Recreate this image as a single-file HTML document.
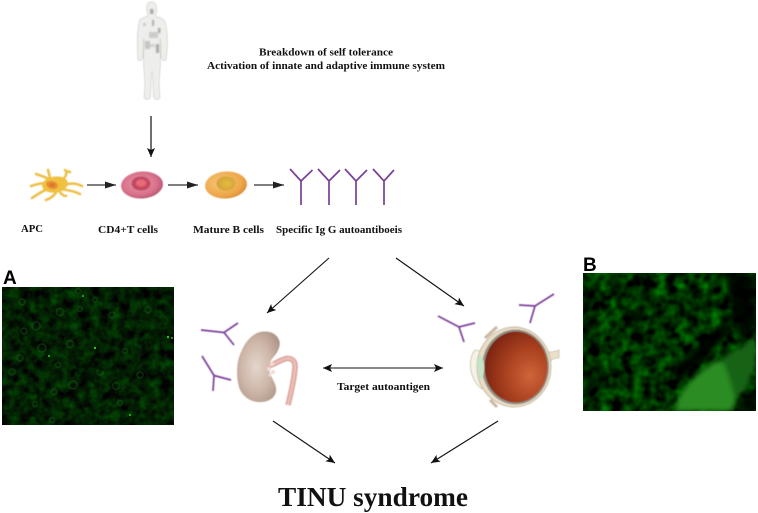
<!DOCTYPE html>
<html><head><meta charset="utf-8"><style>
html,body{margin:0;padding:0;background:#fff;width:758px;height:513px;overflow:hidden}
svg{display:block}
text{font-family:"Liberation Serif",serif;font-weight:bold;fill:#111;font-size:10px}
.a{stroke:#111;stroke-width:1.1;fill:none}
.ab{stroke:#7b3f98;stroke-width:1.7;fill:none}
.r{fill:none;stroke:#1a5e1a;stroke-width:.9}
</style></head><body>
<svg width="758" height="513" viewBox="0 0 758 513" xmlns="http://www.w3.org/2000/svg">
<defs>
<filter id="noiseA" x="0" y="0" width="100%" height="100%" color-interpolation-filters="sRGB"><feTurbulence type="fractalNoise" baseFrequency="0.1" numOctaves="3" seed="4"/><feColorMatrix values="0 0 0 0 0.01  0.42 0.2 0 0 -0.19  0 0 0 0 0.01  0 0 0 0 1"/></filter>
<filter id="noiseB" x="0" y="0" width="100%" height="100%" color-interpolation-filters="sRGB"><feTurbulence type="fractalNoise" baseFrequency="0.09" numOctaves="2" seed="9"/><feColorMatrix values="0 0 0 0 0  0.72 0.36 0 0 -0.36  0 0 0 0 0  0 0 0 0 1"/></filter>
<filter id="bl4"><feGaussianBlur stdDeviation="4"/></filter>
<filter id="bl2"><feGaussianBlur stdDeviation="2.500"/></filter>
<filter id="bl1"><feGaussianBlur stdDeviation="0.5"/></filter>
<radialGradient id="tc" cx=".45" cy=".45" r=".6"><stop offset="0" stop-color="#e89aa8"/><stop offset=".7" stop-color="#d8708a"/><stop offset="1" stop-color="#b04f6a"/></radialGradient>
<radialGradient id="tn" cx=".55" cy=".5" r=".55"><stop offset="0" stop-color="#e0485c"/><stop offset="1" stop-color="#b84a64"/></radialGradient>
<radialGradient id="bc" cx=".4" cy=".4" r=".7"><stop offset="0" stop-color="#f6c97a"/><stop offset=".7" stop-color="#eea648"/><stop offset="1" stop-color="#cf8434"/></radialGradient>
<radialGradient id="bn" cx=".55" cy=".5" r=".55"><stop offset="0" stop-color="#e6bd3e"/><stop offset="1" stop-color="#d2a03c"/></radialGradient>
<radialGradient id="kd" cx=".45" cy=".5" r=".65"><stop offset="0" stop-color="#e4d6cc"/><stop offset=".55" stop-color="#cdb6a8"/><stop offset="1" stop-color="#ab9284"/></radialGradient>
<radialGradient id="ey" cx=".72" cy=".62" r=".8"><stop offset="0" stop-color="#d0643a"/><stop offset=".5" stop-color="#a8401f"/><stop offset="1" stop-color="#741f0e"/></radialGradient>
<marker id="m" markerUnits="userSpaceOnUse" markerWidth="10" markerHeight="9" refX="9" refY="4" orient="auto-start-reverse"><path d="M0 0L9 4L0 8L2 4Z" fill="#111"/></marker>
<marker id="m2" markerUnits="userSpaceOnUse" markerWidth="12" markerHeight="8" refX="11" refY="3.500" orient="auto"><path d="M0 0L11 3.500L0 7Z" fill="#222"/></marker>
</defs>
<rect width="758" height="513" fill="#fff"/>

<!-- human figure -->
<g filter="url(#bl1)">
<path d="M151.500 2C147 2 146 6 147 12C147.500 14 148 15 148 16C144 18 140 18 139 22C137 32 137 45 138 60C140 61 142 60 143 58L143 42L144 38C144 50 143 60 144 70C145 80 145 90 144 98C146 100 150 100 150.500 97L151.500 72L152.500 72L153.500 97C154 100 158 100 160 98C159 90 159 80 160 70C161 60 160 50 160 38L161 44L161 58C162 60 164 61 166 60C168 45 168 32 165 22C164 18 159 18 155.500 16C155.500 15 156 14 156.500 12C157 6 156 2 151.500 2Z" fill="#eeeeec" stroke="#d0d0cc" stroke-width=".7"/>
<g fill="#8d8d88" filter="url(#bl1)" opacity=".7">
<rect x="150" y="9" width="3.500" height="5"/><rect x="152" y="20" width="2" height="6"/><rect x="158" y="28" width="2.500" height="5"/>
<rect x="143" y="23" width="3" height="3" opacity=".5"/><rect x="149" y="32" width="9" height="6" opacity=".5"/><rect x="145" y="41" width="5" height="8" opacity=".6"/><rect x="156" y="44" width="3" height="9"/><rect x="150" y="44" width="5" height="3" opacity=".4"/>
</g></g>
<line class="a" x1="151" y1="116" x2="151" y2="157" marker-end="url(#m)" style="stroke-width:1.200"/>

<text x="259" y="55.500" textLength="134" lengthAdjust="spacingAndGlyphs">Breakdown of self tolerance</text>
<text x="207" y="69" textLength="238" lengthAdjust="spacingAndGlyphs">Activation of innate and adaptive immune system</text>

<!-- APC -->
<g filter="url(#bl1)">
<g fill="none" stroke="#ecc048" stroke-width="2.600" stroke-linecap="round">
<path d="M55 185C46 182 40 183 31 186"/><path d="M50 180C46 177 42 176 36 174"/><path d="M50 180C50 176 49 174 48 170"/>
<path d="M62 180C66 177 68 172 65 170"/><path d="M66 171L70 172"/><path d="M62 185C72 183 76 183 82 186"/><path d="M60 189C68 190 74 191 80 194"/><path d="M58 190C54 195 52 198 46 200"/><path d="M50 188C44 190 38 194 32 198"/><path d="M60 192C62 195 64 196 66 196"/>
</g>
<ellipse cx="55" cy="184.500" rx="13" ry="8" fill="#f0c040" transform="rotate(-8 55 184.500)"/>
<ellipse cx="52" cy="185" rx="6" ry="4" fill="#e88f34" transform="rotate(15 52 185)"/>
<ellipse cx="52" cy="185" rx="3" ry="2" fill="#dc7a2c"/>
</g>
<line x1="87" y1="185" x2="116" y2="185" stroke="#333" stroke-width="1.300" marker-end="url(#m2)"/>
<g filter="url(#bl1)"><ellipse cx="142" cy="185" rx="21" ry="13.500" fill="url(#tc)" transform="rotate(-4 142 185)"/>
<ellipse cx="141" cy="183.500" rx="9.500" ry="7" fill="url(#tn)"/><ellipse cx="141" cy="183" rx="5" ry="3.500" fill="#e66a78"/></g>
<line x1="168" y1="185" x2="198" y2="185" stroke="#333" stroke-width="1.300" marker-end="url(#m2)"/>
<g filter="url(#bl1)"><ellipse cx="226" cy="185" rx="21" ry="13.500" fill="url(#bc)" transform="rotate(-4 226 185)"/>
<ellipse cx="226" cy="183.500" rx="9.500" ry="7" fill="url(#bn)"/></g>
<line x1="254" y1="185" x2="284" y2="185" stroke="#333" stroke-width="1.300" marker-end="url(#m2)"/>
<!-- antibodies -->
<g><path class="ab" d="M290 169L301 181L312.500 170M301 181V205"/><path class="ab" d="M318 169L329 181L340 170M329 181V205"/><path class="ab" d="M345 169L356 181L367 170M356 181V205"/><path class="ab" d="M373 169L384 181L394 170M384 181V205"/></g>

<text x="21" y="232" textLength="22" lengthAdjust="spacingAndGlyphs">APC</text>
<text x="98" y="233" textLength="60" lengthAdjust="spacingAndGlyphs">CD4+T cells</text>
<text x="193" y="233" textLength="71" lengthAdjust="spacingAndGlyphs">Mature B cells</text>
<text x="276" y="233" textLength="126" lengthAdjust="spacingAndGlyphs">Specific Ig G autoantiboeis</text>

<!-- flow arrows -->
<line class="a" x1="329" y1="258" x2="267" y2="313" marker-end="url(#m)"/>
<line class="a" x1="396" y1="258" x2="464" y2="306" marker-end="url(#m)"/>
<line class="a" x1="323" y1="368" x2="443" y2="368" marker-start="url(#m)" marker-end="url(#m)"/>
<line class="a" x1="273" y1="421" x2="335" y2="463" marker-end="url(#m)"/>
<line class="a" x1="498" y1="421" x2="431" y2="463" marker-end="url(#m)"/>
<text x="337" y="390" textLength="93" lengthAdjust="spacingAndGlyphs">Target autoantigen</text>
<text x="278" y="506" textLength="190" lengthAdjust="spacingAndGlyphs" style="font-size:27px">TINU syndrome</text>

<!-- kidney -->
<g filter="url(#bl1)">
<path d="M268 366C276 364 281 359 287 358.500C293 358 295.500 362 295 368C294 380 291 393 288 405" fill="none" stroke="#d8a29a" stroke-width="5.500"/>
<path d="M268 366C276 364 281 359 287 358.500C293 358 295.500 362 295 368C294 380 291 393 288 405" fill="none" stroke="#edbdb5" stroke-width="2.800"/>
<path d="M265 331.500C255 331 246 340 242 350C236 361 236 376 239 387C242 397 252 403 262 402C272 401 277 395 276 388C275 381 270 376 269 369C268.500 362 272 359 276 354C280 348 281 342 278 338C275 333 270 331.500 265 331.500Z" fill="url(#kd)"/>
<circle cx="272" cy="364" r="2" fill="#efdcd2"/><circle cx="269" cy="369" r="2" fill="#efdcd2"/><circle cx="273" cy="372" r="2" fill="#efdcd2"/><circle cx="270" cy="375" r="1.500" fill="#efdcd2"/>
</g>
<!-- free antibodies -->
<g filter="url(#bl1)">
<path class="ab" d="M201 330L224 332.500L238 323M224 332.500L234 345"/>
<path class="ab" d="M202 356L214 375.500L213 391M214 375.500L231 380"/>
<path class="ab" d="M438 316L459 327L475 323M459 327L464 342"/>
<path class="ab" d="M554 294L535 306L519 305M535 306L530 323"/>
</g>

<!-- eye -->
<g filter="url(#bl1)">
<path d="M543 350C549 353 554 352 559 350L559 358C553 358 549 361 547 366Z" fill="#ecdfca" stroke="#b9ad98" stroke-width=".6"/>
<path d="M485 338L497 327M490 400L497 407" stroke="#c9b9a0" stroke-width="3" fill="none"/>
<path d="M475 350C468 358 468 378 482 389L490 380L486 352Z" fill="#f5f3e6" stroke="#c4bfa0" stroke-width=".8"/>
<ellipse cx="514" cy="367" rx="37" ry="40" fill="#eadcc6" stroke="#b5a88f" stroke-width=".7"/>
<ellipse cx="515.500" cy="367" rx="33.500" ry="37.500" fill="#8f9084"/>
<ellipse cx="516" cy="367" rx="31.500" ry="35.500" fill="url(#ey)"/>
<path d="M480 354C476 360 476 374 481 380C485 376 486 360 480 354Z" fill="#c8e2c6"/>
</g>

<!-- panel A -->
<text x="3" y="284" style="font-family:'Liberation Sans',sans-serif;font-size:19px;fill:#000">A</text>
<svg x="2" y="287" width="172" height="138" viewBox="2 287 172 138">
<rect x="2" y="287" width="172" height="138" fill="#031203"/>
<rect x="2" y="287" width="172" height="138" filter="url(#noiseA)"/>
<g filter="url(#bl1)" opacity=".85">
<circle class="r" cx="42" cy="348" r="4"/><circle class="r" cx="70" cy="344" r="3.500"/><circle class="r" cx="60" cy="312" r="3.500"/><circle class="r" cx="36" cy="326" r="4"/><circle class="r" cx="24" cy="331" r="3"/><circle class="r" cx="22" cy="302" r="3"/><circle class="r" cx="78" cy="291" r="2.500"/><circle class="r" cx="112" cy="315" r="3"/><circle class="r" cx="80" cy="309" r="2.500"/><circle class="r" cx="54" cy="392" r="3"/><circle class="r" cx="73" cy="385" r="4"/><circle class="r" cx="116" cy="386" r="3.500"/><circle class="r" cx="120" cy="403" r="2.500"/><circle class="r" cx="20" cy="358" r="3"/><circle class="r" cx="12" cy="372" r="3"/><circle class="r" cx="58" cy="365" r="2.500"/><circle class="r" cx="95" cy="300" r="2.500"/><circle class="r" cx="125" cy="351" r="2.500"/><circle class="r" cx="148" cy="310" r="3"/><circle class="r" cx="140" cy="375" r="3"/><circle class="r" cx="100" cy="372" r="3"/><circle class="r" cx="35" cy="404" r="2.500"/><circle class="r" cx="52" cy="420" r="2.500"/>
<path d="M82 366C90 364 96 368 104 370M80 378C86 376 92 380 98 386M92 357C98 356 102 358 106 358" stroke="#020a02" stroke-width="2" fill="none"/>
</g>
<g fill="#2fc02f"><circle cx="95" cy="348" r="1.200"/><circle cx="168" cy="337" r="1.200"/><circle cx="172" cy="338" r="1"/><circle cx="130" cy="415" r="1"/><circle cx="49" cy="356" r="1"/><circle cx="83" cy="296" r="1"/></g>
</svg>

<!-- panel B -->
<text x="583" y="271" style="font-family:'Liberation Sans',sans-serif;font-size:19px;fill:#000">B</text>
<svg x="583" y="273" width="173" height="138" viewBox="583 273 173 138">
<rect x="583" y="273" width="173" height="138" fill="#020c02"/>
<rect x="583" y="273" width="173" height="138" filter="url(#noiseB)"/>
<g filter="url(#bl4)" fill="#010601">
<path d="M725 273L756 273V330L738 340Z" opacity=".9"/>
<path d="M583 290L590 290L590 335L583 345Z" opacity=".7"/>
<path d="M583 375L600 365L605 380L583 400Z" opacity=".6"/>
<path d="M640 273L648 273L640 340L630 335Z" opacity=".5"/>
<path d="M700 345L722 325L735 322L712 352L680 382L670 372Z"/>
<path d="M740 402L756 390V411H732Z"/>
</g>
<g filter="url(#bl2)"><path d="M675 411C678 392 695 374 715 362C722 358 730 368 736 385C738 398 734 411 728 411Z" fill="#2a8c20"/>
<path d="M722 358L745 345L756 335V365L745 390L735 398L728 375Z" fill="#196415"/></g>
</svg>
</svg>
</body></html>
